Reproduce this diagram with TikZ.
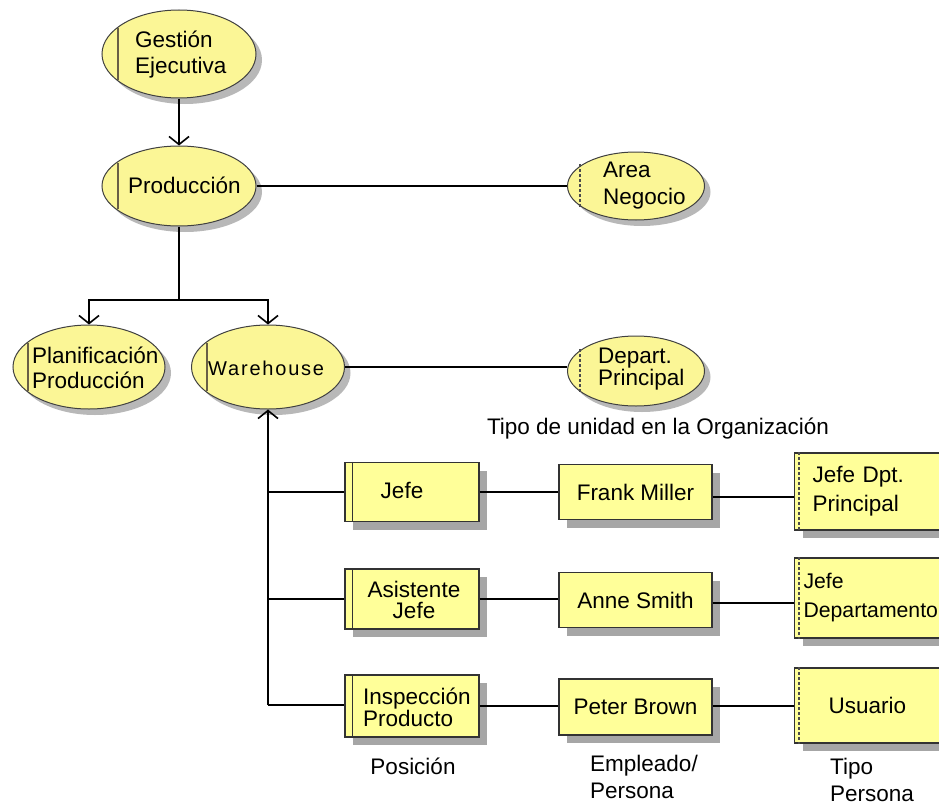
\documentclass[tikz,border=0pt]{standalone}
\usepackage{fontspec}
\setmainfont{Liberation Sans}
\usetikzlibrary{shapes.geometric,shadows,arrows.meta,calc}
\definecolor{ellfill}{RGB}{251,246,150}
\definecolor{boxfill}{RGB}{255,255,153}
\definecolor{marker}{RGB}{105,95,70}

\begin{document}
\begin{tikzpicture}[x=1pt,y=-1pt,
  font=\fontsize{22.5}{26}\selectfont,
  conn/.style={line width=1.6pt, draw=black},
  arr/.style={conn, -{Straight Barb[length=8pt,width=20pt,line width=1.6pt]}},
  ell/.style={ellipse, draw=black!75, line width=1pt, fill=ellfill, inner sep=0pt,
    drop shadow={shadow xshift=6pt, shadow yshift=-6pt, fill=black!28, opacity=1}},
  rbox/.style={rectangle, draw=black!80, line width=1.2pt, fill=boxfill, inner sep=0pt,
    drop shadow={shadow xshift=8pt, shadow yshift=-8pt, fill=black!35, opacity=1}},
  txt/.style={inner sep=0pt, align=left},
  ctxt/.style={inner sep=0pt, align=center},
  solidmark/.style={draw=marker, line width=1.3pt},
  dashmark/.style={draw=black!70, line width=1.2pt, dash pattern=on 3pt off 2pt},
]
\useasboundingbox (0,0) rectangle (939,808);
\clip (0,0) rectangle (939,808);

% ---- organisational units (ellipses) ----
\node[ell, minimum width=154, minimum height=88] (gest) at (179,54) {};
\node[ell, minimum width=154, minimum height=80] (prod) at (179,186) {};
\node[ell, minimum width=137, minimum height=68] (area) at (636,186) {};
\node[ell, minimum width=152, minimum height=84] (plan) at (89,367) {};
\node[ell, minimum width=153, minimum height=84] (ware) at (268,367) {};
\node[ell, minimum width=137, minimum height=70] (dep)  at (636,371) {};

% inner side markers
\draw[solidmark] ($(gest.center)+(-61,-26)$) -- ($(gest.center)+(-61,26)$);
\draw[solidmark] ($(prod.center)+(-61,-23)$) -- ($(prod.center)+(-61,23)$);
\draw[solidmark] ($(plan.center)+(-61,-24)$) -- ($(plan.center)+(-61,24)$);
\draw[solidmark] ($(ware.center)+(-61,-24)$) -- ($(ware.center)+(-61,24)$);
\draw[dashmark]  ($(area.center)+(-56,-22)$) -- ($(area.center)+(-56,22)$);
\draw[dashmark]  ($(dep.center)+(-56,-22)$) -- ($(dep.center)+(-56,22)$);

% labels of the units
\node[txt, anchor=west] (gestT) at (135,55) {Gestión\\Ejecutiva};
\node[txt, anchor=west] (prodT) at (128,185) {Producción};
\node[txt, anchor=west, font=\fontsize{22.5}{27}\selectfont] (areaT) at (603,186) {Area\\Negocio};
\node[txt, anchor=west, font=\fontsize{22.5}{25}\selectfont] (planT) at (32,368) {Planificación\\Producción};
\node[txt, anchor=west, font=\fontsize{20}{24}\selectfont\addfontfeatures{LetterSpace=9}] (wareT) at (208,368) {Warehouse};
\node[txt, anchor=west, font=\fontsize{22.5}{22}\selectfont] (depT) at (598,369) {Depart.\\Principal};

\node[ctxt] (tipoU) at (658,429) {Tipo de unidad en la Organización};

% ---- positions, employees and person types (boxes) ----
\node[rbox, minimum width=134, minimum height=59] (jefe) at (412,492) {};
\node[rbox, minimum width=134, minimum height=60] (asis) at (412,599) {};
\node[rbox, minimum width=134, minimum height=62] (insp) at (412,706) {};
\draw[solidmark, draw=black!80, line width=1.2pt] ($(jefe.north west)+(8,0)$) -- ($(jefe.south west)+(8,0)$);
\draw[solidmark, draw=black!80, line width=1.2pt] ($(asis.north west)+(8,0)$) -- ($(asis.south west)+(8,0)$);
\draw[solidmark, draw=black!80, line width=1.2pt] ($(insp.north west)+(8,0)$) -- ($(insp.south west)+(8,0)$);
\node[ctxt] (jefeT) at (402,490) {Jefe};
\node[ctxt, font=\fontsize{22.5}{21}\selectfont] (asisT) at (414,600) {Asistente\\Jefe};
\node[txt, anchor=west, font=\fontsize{22.5}{20}\selectfont] (inspT) at (363,707) {Inspección\\Producto};

\node[rbox, minimum width=153, minimum height=55] (frank) at (635.5,492) {Frank Miller};
\node[rbox, minimum width=153, minimum height=55] (anne)  at (635.5,600) {Anne Smith};
\node[rbox, minimum width=153, minimum height=56] (peter) at (635.5,707) {Peter Brown};

\node[rbox, anchor=west, minimum height=77, text width=160, align=left, inner xsep=18pt,
  font=\fontsize{22.5}{29}\selectfont] (jdp) at (794,491.5) {Jefe Dpt.\\Principal};
\node[rbox, anchor=west, minimum height=80, text width=170, align=left, inner xsep=9pt,
  font=\fontsize{21.2}{29}\selectfont] (jd) at (794,598) {Jefe\\Departamento};
\node[rbox, anchor=west, minimum height=75, text width=150, align=left, inner xsep=34pt] (usu) at (794,705.5) {Usuario};
\draw[dashmark] ($(jdp.north west)+(5,0)$) -- ($(jdp.south west)+(5,0)$);
\draw[dashmark] ($(jd.north west)+(5,0)$) -- ($(jd.south west)+(5,0)$);
\draw[dashmark] ($(usu.north west)+(5,0)$) -- ($(usu.south west)+(5,0)$);

% column captions
\node[ctxt] (posT) at (413,766) {Posición};
\node[txt, anchor=north west, font=\fontsize{22.5}{27}\selectfont] (empT) at (590,755) {Empleado/\\Persona};
\node[txt, anchor=north west, font=\fontsize{22.5}{27}\selectfont] (tpT) at (830,758) {Tipo\\Persona};

% ---- connectors ----
\draw[arr] (gest.south) -- (prod.north);
\draw[conn] (prod.east) -- (area.west);
\coordinate (split) at (179,300);
\draw[conn] (prod.south) -- (split);
\draw[arr] (split) -| (plan.north);
\draw[arr] (split) -| (ware.north);
\draw[conn] (ware.east) -- (ware.east -| dep.west);

\coordinate (trunk) at (268,705);
\draw[arr] (trunk) -- (ware.south);
\draw[conn] (trunk |- jefe.west) -- (jefe.west);
\draw[conn] (trunk |- asis.west) -- (asis.west);
\draw[conn] (trunk) -- (trunk -| insp.west);

\draw[conn] (jefe.east) -- (jefe.east -| frank.west);
\draw[conn] (asis.east) -- (asis.east -| anne.west);
\draw[conn] (insp.east) -- (insp.east -| peter.west);

\coordinate (frankout) at ([yshift=-5pt]frank.east);
\coordinate (anneout)  at ([yshift=-3pt]anne.east);
\coordinate (peterout) at ([yshift=1pt]peter.east);
\draw[conn] (frankout) -- (frankout -| jdp.west);
\draw[conn] (anneout)  -- (anneout -| jd.west);
\draw[conn] (peterout) -- (peterout -| usu.west);
\end{tikzpicture}
\end{document}
